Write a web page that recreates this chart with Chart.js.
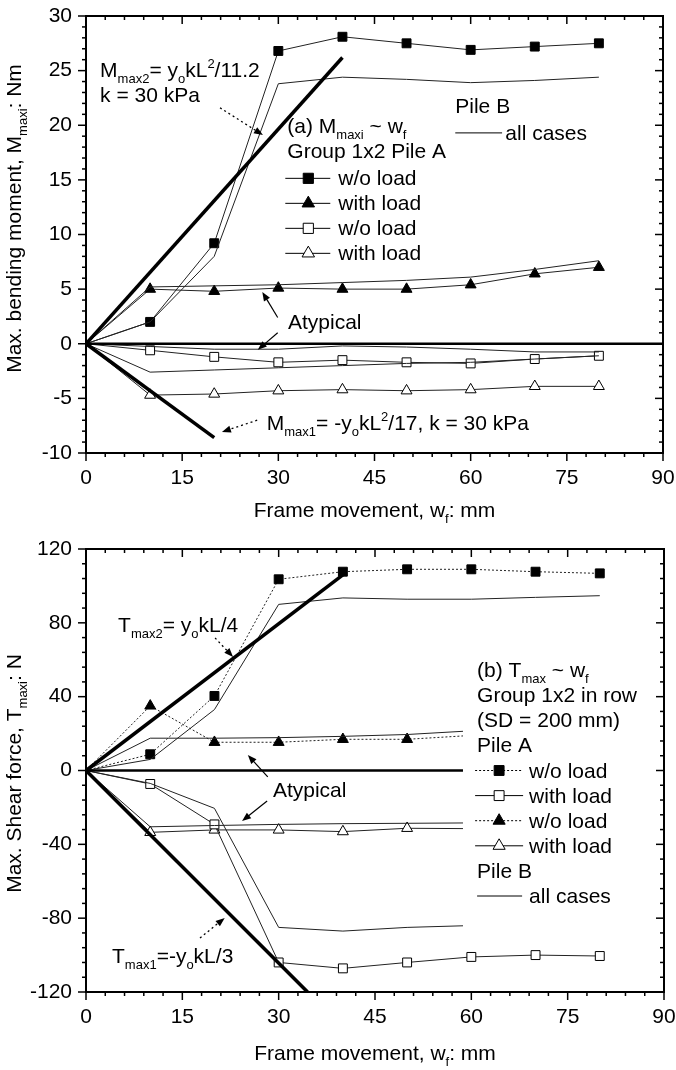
<!DOCTYPE html>
<html>
<head>
<meta charset="utf-8">
<script src="https://cdn.jsdelivr.net/npm/chart.js@4.4.1/dist/chart.umd.min.js"></script>
<style>
  body { margin: 0; background: #fff; }
  canvas { display: block; }
</style>
</head>
<body>
<canvas id="momentChart" width="676" height="535"></canvas>
<canvas id="shearChart" width="676" height="535"></canvas>
<script>
const FONT = '"Liberation Sans", Arial, sans-serif';

// frame movement w_f (mm)
const wf = [0, 10, 20, 30, 40, 50, 60, 70, 80];

// (a) max bending moment, Nm
const mA_noLoad    = [0, 2.0, 9.2, 26.8, 28.1, 27.5, 26.9, 27.2, 27.5];
const mA_withLoad  = [0, 5.0, 4.8, 5.1, 5.0, 5.0, 5.4, 6.4, 7.0];
const mA_noLoad2   = [0, -0.6, -1.2, -1.7, -1.5, -1.7, -1.8, -1.4, -1.1];
const mA_withLoad2 = [0, -4.7, -4.6, -4.3, -4.2, -4.3, -4.2, -3.9, -3.9];
const mB_1 = [0, 2.0, 8.0, 23.8, 24.4, 24.2, 23.9, 24.1, 24.4];
const mB_2 = [0, 5.2, 5.3, 5.4, 5.6, 5.8, 6.1, 6.8, 7.6];
const mB_3 = [0, -0.25, -0.5, -0.5, -0.2, -0.3, -0.5, -0.75, -0.75];
const mB_4 = [0, -2.6, -2.4, -2.2, -2.0, -1.8, -1.7, -1.4, -1.1];
const mMax2X = [0, 40], mMax2Y = [0, 26.2];
const mMax1X = [0, 20], mMax1Y = [0, -8.6];

// (b) max shear force, N
const tA_noLoad    = [0, 8.8, 40.4, 103.6, 107.7, 109, 109, 107.7, 106.8];
const tA_withLoad  = [0, -7.3, -29.2, -104, -107.2, -104, -101, -100, -100.5];
const tA_noLoad2   = [0, 35, 15.3, 15.3, 16.9, 16.9, 19];
const tA_withLoad2 = [0, -33.5, -32.2, -32.2, -33.1, -31.3, -31.5];
const tB_1 = [0, 6, 33, 90, 93.5, 92.8, 92.8, 93.8, 94.7];
const tB_2 = [0, 17.5, 17.5, 17.8, 18.5, 19.5, 21.5];
const tB_3 = [0, -7, -20.5, -85, -87, -85, -84];
const tB_4 = [0, -30.5, -29.8, -29.2, -28.8, -28.6, -28.4];
const tMax2X = [0, 40], tMax2Y = [0, 106];
const tMax1X = [0, 34.5], tMax1Y = [0, -120];

const zeroX = [0, 90], zeroY = [0, 0];

function series(ys, shape, filled, dotted) {
  return {
    data: ys.map((y, i) => ({ x: wf[i], y: y })),
    showLine: true,
    borderColor: '#222',
    borderWidth: 1,
    borderDash: dotted ? [2, 2] : [],
    pointStyle: shape || 'circle',
    pointRadius: shape ? (c => c.dataIndex === 0 ? 0 : 6.3) : 0,
    pointBackgroundColor: filled ? '#000' : '#fff',
    pointBorderColor: '#000',
    pointBorderWidth: 1
  };
}

function straight(xs, ys, w) {
  return {
    data: xs.map((x, i) => ({ x: x, y: ys[i] })),
    showLine: true, borderColor: '#000', borderWidth: w, pointRadius: 0
  };
}

// text with _sub and ^sup parts, returns width
function rich(ctx, x, y, parts, draw = true) {
  let cx = x;
  for (const p of parts) {
    let t = p, dy = 0, fs = 21;
    if (p[0] === '_') { t = p.slice(1); fs = 13; dy = 6; }
    else if (p[0] === '^') { t = p.slice(1); fs = 13; dy = -9; }
    ctx.font = fs + 'px ' + FONT;
    if (draw) ctx.fillText(t, cx, y + dy);
    cx += ctx.measureText(t).width;
  }
  return cx - x;
}

function arrow(ctx, x1, y1, x2, y2, dotted) {
  const ang = Math.atan2(y2 - y1, x2 - x1);
  const hl = 9, hw = 3.5;
  ctx.save();
  ctx.strokeStyle = '#000';
  ctx.lineWidth = dotted ? 1.3 : 1.2;
  ctx.setLineDash(dotted ? [2, 3] : []);
  ctx.beginPath();
  ctx.moveTo(x1, y1);
  ctx.lineTo(x2 - Math.cos(ang) * hl * 0.8, y2 - Math.sin(ang) * hl * 0.8);
  ctx.stroke();
  ctx.setLineDash([]);
  ctx.beginPath();
  ctx.moveTo(x2, y2);
  ctx.lineTo(x2 - Math.cos(ang) * hl - Math.sin(ang) * hw, y2 - Math.sin(ang) * hl + Math.cos(ang) * hw);
  ctx.lineTo(x2 - Math.cos(ang) * hl + Math.sin(ang) * hw, y2 - Math.sin(ang) * hl - Math.cos(ang) * hw);
  ctx.closePath();
  ctx.fillStyle = '#000';
  ctx.fill();
  ctx.restore();
}

function marker(ctx, shape, filled, x, y, r) {
  ctx.beginPath();
  if (shape === 'rect') {
    const s = r * Math.SQRT1_2;
    ctx.rect(x - s, y - s, 2 * s, 2 * s);
  } else {
    ctx.moveTo(x, y - r);
    ctx.lineTo(x + r * 0.866, y + r * 0.5);
    ctx.lineTo(x - r * 0.866, y + r * 0.5);
    ctx.closePath();
  }
  ctx.fillStyle = filled ? '#000' : '#fff';
  ctx.fill();
  ctx.lineWidth = 1;
  ctx.strokeStyle = '#000';
  ctx.setLineDash([]);
  ctx.stroke();
}

function seg(ctx, x1, y1, x2, y2, w, dash) {
  ctx.beginPath();
  ctx.lineWidth = w;
  ctx.setLineDash(dash || []);
  ctx.strokeStyle = '#000';
  ctx.moveTo(x1, y1);
  ctx.lineTo(x2, y2);
  ctx.stroke();
  ctx.setLineDash([]);
}

function frame(chart, xMinor, xMajor, yMinor, yMajor) {
  const { ctx, chartArea: a, scales: { x, y } } = chart;
  ctx.save();
  const nx = Math.round((x.max - x.min) / xMinor);
  for (let i = 0; i <= nx; i++) {
    const px = x.getPixelForValue(x.min + i * xMinor);
    const L = i % Math.round(xMajor / xMinor) === 0 ? 8 : 4;
    seg(ctx, px, a.bottom, px, a.bottom + L, 1.5);
    seg(ctx, px, a.top, px, a.top + L, 1.5);
  }
  const ny = Math.round((y.max - y.min) / yMinor);
  for (let i = 0; i <= ny; i++) {
    const py = y.getPixelForValue(y.min + i * yMinor);
    const L = i % Math.round(yMajor / yMinor) === 0 ? 8 : 4;
    seg(ctx, a.left - L, py, a.left, py, 1.5);
    seg(ctx, a.right - L, py, a.right, py, 1.5);
  }
  ctx.lineWidth = 2;
  ctx.strokeRect(a.left, a.top, a.right - a.left, a.bottom - a.top);
  ctx.restore();
}

function titles(chart, xParts, yParts, xGap, yBase, yShift) {
  const { ctx, chartArea: a } = chart;
  ctx.save();
  ctx.fillStyle = '#000';
  ctx.textBaseline = 'alphabetic';
  ctx.textAlign = 'left';
  let w = rich(ctx, 0, 0, xParts, false);
  rich(ctx, (a.left + a.right) / 2 - w / 2, a.bottom + xGap, xParts);
  ctx.translate(yBase, (a.top + a.bottom) / 2 + yShift);
  ctx.rotate(-Math.PI / 2);
  w = rich(ctx, 0, 0, yParts, false);
  rich(ctx, -w / 2, 0, yParts);
  ctx.restore();
}

function options(cfg) {
  return {
    responsive: false,
    animation: false,
    events: [],
    layout: { padding: { top: cfg.top, right: cfg.right, left: 0, bottom: 0 } },
    plugins: { legend: { display: false }, tooltip: { enabled: false } },
    scales: {
      x: {
        type: 'linear', min: 0, max: 90,
        grid: { display: false, drawTicks: false },
        border: { display: false },
        ticks: { stepSize: 15, font: { family: FONT, size: 21 }, color: '#000', padding: 13, maxRotation: 0 },
        afterFit: s => { s.height = cfg.xh; s.paddingLeft = 0; s.paddingRight = 0; }
      },
      y: {
        type: 'linear', min: cfg.ymin, max: cfg.ymax,
        grid: { display: false, drawTicks: false },
        border: { display: false },
        ticks: { stepSize: cfg.ystep, font: { family: FONT, size: 21 }, color: '#000', padding: 14 },
        afterFit: s => { s.width = 86; s.paddingTop = 0; s.paddingBottom = 0; }
      }
    }
  };
}

// ---------- (a) bending moment ----------
new Chart(document.getElementById('momentChart'), {
  type: 'scatter',
  data: {
    datasets: [
      straight(zeroX, zeroY, 2.5),
      straight(mMax2X, mMax2Y, 3.5),
      straight(mMax1X, mMax1Y, 3.5),
      series(mB_1), series(mB_2), series(mB_3), series(mB_4),
      series(mA_noLoad, 'rect', true),
      series(mA_withLoad, 'triangle', true),
      series(mA_noLoad2, 'rect', false),
      series(mA_withLoad2, 'triangle', false)
    ]
  },
  options: options({ top: 16, right: 13, xh: 82, ymin: -10, ymax: 30, ystep: 5 }),
  plugins: [{
    id: 'decorA',
    afterDatasetsDraw(chart) {
      const { ctx, scales: { x, y } } = chart;
      const X = v => x.getPixelForValue(v), Y = v => y.getPixelForValue(v);
      ctx.save();
      ctx.fillStyle = '#000';
      ctx.textAlign = 'left';
      ctx.textBaseline = 'alphabetic';
      rich(ctx, X(2.2), Y(24.4), ['M', '_max2', '= y', '_o', 'kL', '^2', '/11.2']);
      rich(ctx, X(2.2), Y(22.1), ['k = 30 kPa']);
      arrow(ctx, X(20.9), Y(21.6), X(27.6), Y(19.1), true);

      const x0 = X(31.4);
      rich(ctx, x0, Y(19.3), ['(a) M', '_maxi', ' ~ w', '_f']);
      rich(ctx, x0, Y(17.0), ['Group 1x2 Pile A']);
      const rows = [['rect', true, 'w/o load'], ['triangle', true, 'with load'],
                    ['rect', false, 'w/o load'], ['triangle', false, 'with load']];
      const b0 = Y(14.5);
      rows.forEach((r, i) => {
        const by = b0 + 25 * i, my = by - 7;
        seg(ctx, x0 - 2, my, x0 + 43, my, 1);
        marker(ctx, r[0], r[1], x0 + 21, my, 7.2);
        ctx.fillStyle = '#000';
        rich(ctx, x0 + 51, by, [r[2]]);
      });
      rich(ctx, X(57.6), Y(21.1), ['Pile B']);
      seg(ctx, X(57.6), Y(19.3), X(64.9), Y(19.3), 1);
      ctx.fillStyle = '#000';
      rich(ctx, X(65.4), Y(18.65), ['all cases']);

      rich(ctx, X(31.5), Y(1.35), ['Atypical']);
      arrow(ctx, X(29.9), Y(2.4), X(27.5), Y(4.74), false);
      arrow(ctx, X(29.9), Y(1.0), X(26.8), Y(-0.55), false);

      ctx.fillStyle = '#000';
      rich(ctx, X(28.2), Y(-7.9), ['M', '_max1', '= -y', '_o', 'kL', '^2', '/17, k = 30 kPa']);
      arrow(ctx, X(26.7), Y(-7.0), X(21.2), Y(-8.07), true);
      ctx.restore();

      frame(chart, 3, 15, 1, 5);
      titles(chart, ['Frame movement, w', '_f', ': mm'], ['Max. bending moment, M', '_maxi', ': Nm'], 64, 21, -16);
    }
  }]
});

// ---------- (b) shear force ----------
new Chart(document.getElementById('shearChart'), {
  type: 'scatter',
  data: {
    datasets: [
      straight(zeroX, zeroY, 2.5),
      straight(tMax2X, tMax2Y, 3.5),
      straight(tMax1X, tMax1Y, 3.5),
      series(tB_1), series(tB_2), series(tB_3), series(tB_4),
      series(tA_noLoad, 'rect', true, true),
      series(tA_withLoad, 'rect', false),
      series(tA_noLoad2, 'triangle', true, true),
      series(tA_withLoad2, 'triangle', false)
    ]
  },
  options: options({ top: 14, right: 12, xh: 78, ymin: -120, ymax: 120, ystep: 40 }),
  plugins: [{
    id: 'decorB',
    afterDatasetsDraw(chart) {
      const { ctx, chartArea: a, scales: { x, y } } = chart;
      const X = v => x.getPixelForValue(v), Y = v => y.getPixelForValue(v);
      ctx.save();
      // legend box hides the curves behind it
      ctx.fillStyle = '#fff';
      ctx.fillRect(X(58.7), Y(65), a.right - X(58.7), Y(-92) - Y(65));

      ctx.fillStyle = '#000';
      ctx.textAlign = 'left';
      ctx.textBaseline = 'alphabetic';
      rich(ctx, X(5.0), Y(75.0), ['T', '_max2', '= y', '_o', 'kL/4']);
      arrow(ctx, X(20.1), Y(71.8), X(22.9), Y(61.5), true);

      rich(ctx, X(29.1), Y(-14.4), ['Atypical']);
      arrow(ctx, X(28.3), Y(-3.5), X(25.2), Y(8.4), false);
      arrow(ctx, X(28.2), Y(-16.5), X(24.3), Y(-27.4), false);

      ctx.fillStyle = '#000';
      rich(ctx, X(4.05), Y(-104.3), ['T', '_max1', '=-y', '_o', 'kL/3']);
      arrow(ctx, X(17.75), Y(-90.7), X(21.6), Y(-79.9), true);

      const x0 = X(60.9), b0 = Y(50.6), step = 25.1;
      ctx.fillStyle = '#000';
      rich(ctx, x0, b0, ['(b) T', '_max', ' ~ w', '_f']);
      rich(ctx, x0, b0 + step, ['Group 1x2 in row']);
      rich(ctx, x0, b0 + step * 2, ['(SD = 200 mm)']);
      rich(ctx, x0, b0 + step * 3, ['Pile A']);
      const rows = [['rect', true, true, 'w/o load'], ['rect', false, false, 'with load'],
                    ['triangle', true, true, 'w/o load'], ['triangle', false, false, 'with load']];
      rows.forEach((r, i) => {
        const by = b0 + step * (4 + i), my = by - 7;
        seg(ctx, x0 - 2, my, x0 + 46, my, 1, r[2] ? [2, 2] : []);
        marker(ctx, r[0], r[1], x0 + 22, my, 7);
        ctx.fillStyle = '#000';
        rich(ctx, x0 + 52, by, [r[3]]);
      });
      rich(ctx, x0, b0 + step * 8, ['Pile B']);
      seg(ctx, x0, b0 + step * 9 - 7, x0 + 45, b0 + step * 9 - 7, 1);
      ctx.fillStyle = '#000';
      rich(ctx, x0 + 52, b0 + step * 9, ['all cases']);
      ctx.restore();

      frame(chart, 3, 15, 8, 40);
      titles(chart, ['Frame movement, w', '_f', ': mm'], ['Max. Shear force, T', '_maxi', ': N'], 68, 21, 3);
    }
  }]
});
</script>
</body>
</html>
